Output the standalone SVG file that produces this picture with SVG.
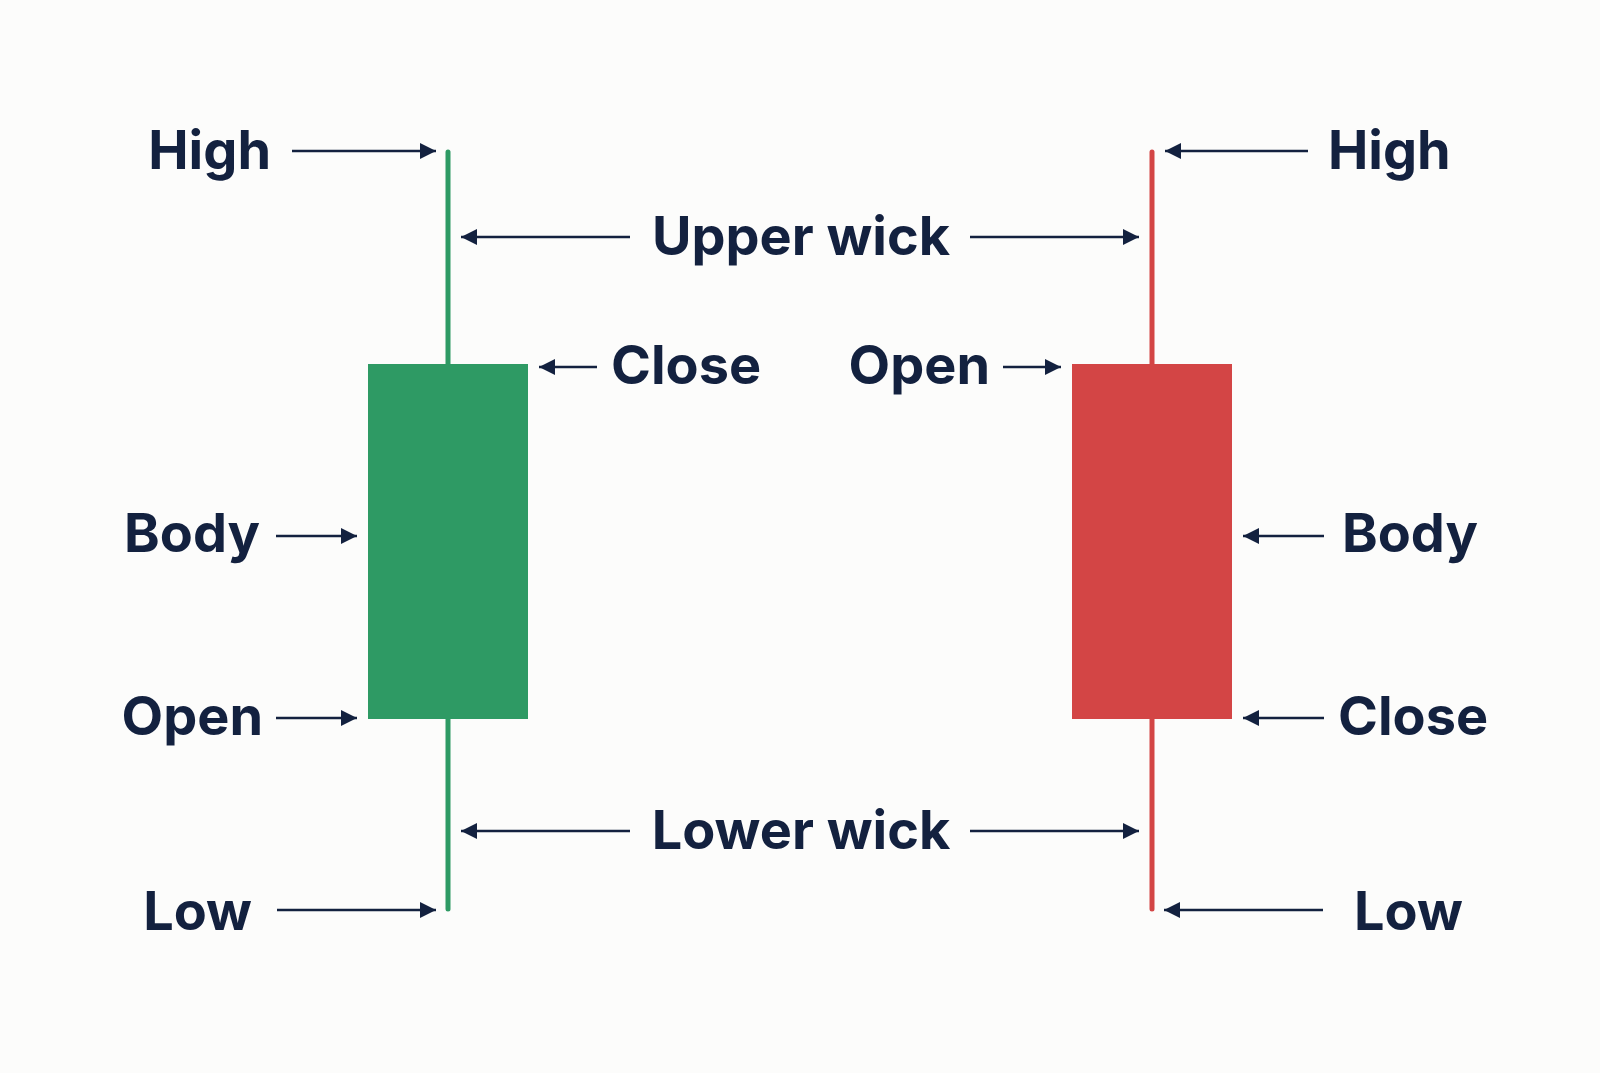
<svg xmlns="http://www.w3.org/2000/svg" width="1600" height="1073" viewBox="0 0 1600 1073">
<defs>
<style>
.lbl{font-family:Inter,"Liberation Sans",sans-serif;font-weight:700;font-size:54px;fill:#13213f}
.arr{stroke:#13213f;stroke-width:2.5;fill:none;marker-end:url(#ah)}
</style>
<marker id="ah" markerUnits="userSpaceOnUse" markerWidth="17" markerHeight="16" refX="16" refY="8" orient="auto">
<path d="M0,0 L16,8 L0,16 z" fill="#13213f"/>
</marker>
</defs>
<rect width="1600" height="1073" fill="#fcfcfb"/>
<g id="green-candle">
<line x1="448" y1="152" x2="448" y2="909" stroke="#2e9a64" stroke-width="5" stroke-linecap="round"/>
<rect x="368" y="364" width="160" height="355" fill="#2e9a64"/>
</g>
<g id="red-candle">
<line x1="1152" y1="152" x2="1152" y2="909" stroke="#d34545" stroke-width="5" stroke-linecap="round"/>
<rect x="1072" y="364" width="160" height="355" fill="#d34545"/>
</g>
<g id="connectors">
<line class="arr" x1="292" y1="151" x2="436" y2="151"/>
<line class="arr" x1="630" y1="237" x2="461" y2="237"/>
<line class="arr" x1="970" y1="237" x2="1139" y2="237"/>
<line class="arr" x1="597" y1="367" x2="539" y2="367"/>
<line class="arr" x1="1003" y1="367" x2="1061" y2="367"/>
<line class="arr" x1="276" y1="536" x2="357" y2="536"/>
<line class="arr" x1="1324" y1="536" x2="1243" y2="536"/>
<line class="arr" x1="276" y1="718" x2="357" y2="718"/>
<line class="arr" x1="1324" y1="718" x2="1243" y2="718"/>
<line class="arr" x1="630" y1="831" x2="461" y2="831"/>
<line class="arr" x1="970" y1="831" x2="1139" y2="831"/>
<line class="arr" x1="277" y1="910" x2="436" y2="910"/>
<line class="arr" x1="1323" y1="910" x2="1164" y2="910"/>
<line class="arr" x1="1308" y1="151" x2="1165" y2="151"/>
</g>
<g id="label-high-left"><text class="lbl" x="271" y="169" text-anchor="end">High</text></g>
<g id="label-high-right"><text class="lbl" x="1328" y="169">High</text></g>
<g id="label-upper-wick"><text class="lbl" x="801" y="255" text-anchor="middle">Upper wick</text></g>
<g id="label-close-left"><text class="lbl" x="611" y="384">Close</text></g>
<g id="label-open-right"><text class="lbl" x="990" y="384" text-anchor="end">Open</text></g>
<g id="label-body-left"><text class="lbl" x="260" y="552" text-anchor="end">Body</text></g>
<g id="label-body-right"><text class="lbl" x="1342" y="552">Body</text></g>
<g id="label-open-left"><text class="lbl" x="263" y="735" text-anchor="end">Open</text></g>
<g id="label-close-right"><text class="lbl" x="1338" y="735">Close</text></g>
<g id="label-lower-wick"><text class="lbl" x="801" y="849" text-anchor="middle">Lower wick</text></g>
<g id="label-low-left"><text class="lbl" x="252" y="930" text-anchor="end">Low</text></g>
<g id="label-low-right"><text class="lbl" x="1354" y="930">Low</text></g>
</svg>
